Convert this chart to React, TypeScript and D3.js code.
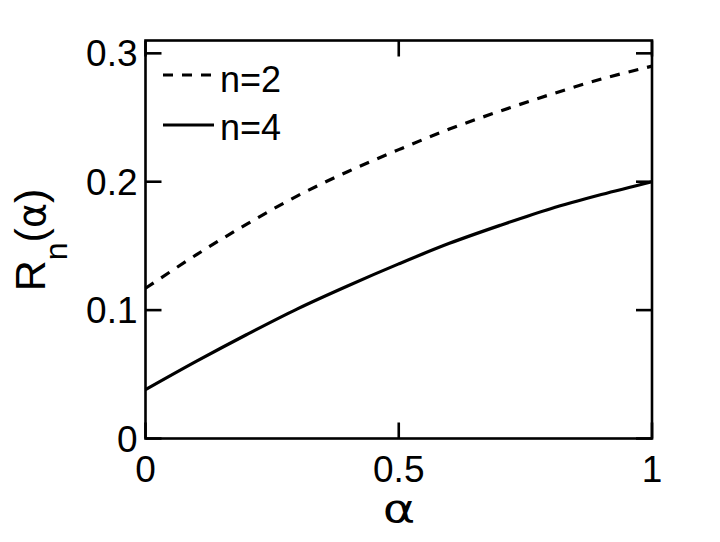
import React from "react";
import * as d3 from "d3";

const alphaValues = [0, 0.1, 0.2, 0.3, 0.4, 0.5, 0.6, 0.7, 0.8, 0.9, 1.0];
const seriesN2 = [0.117, 0.143, 0.167, 0.189, 0.208, 0.225, 0.241, 0.255, 0.268, 0.280, 0.290];
const seriesN4 = [0.038, 0.060, 0.081, 0.101, 0.119, 0.136, 0.152, 0.166, 0.179, 0.190, 0.200];
const xTicks = [0, 0.5, 1];
const xTickLabels = ["0", "0.5", "1"];
const yTicks = [0, 0.1, 0.2, 0.3];
const yTickLabels = ["0", "0.1", "0.2", "0.3"];
const legendLabels = ["n=2", "n=4"];

const W = 720, H = 542;
const L = 145.5, R = 652, T = 40.5, B = 438.5;
const FONT = "'Liberation Sans', Arial, Helvetica, sans-serif";
const GREEK = "'DejaVu Sans', 'Liberation Sans', sans-serif";

export default function App() {
  const x = d3.scaleLinear().domain([0, 1]).range([L, R]);
  const y = d3.scaleLinear().domain([0, 0.31]).range([B, T]);
  const line = d3
    .line<number>()
    .x((_, i) => x(alphaValues[i]))
    .y((d) => y(d))
    .curve(d3.curveCatmullRom);
  const tick = 16;
  return (
    <svg width={W} height={H} style={{ position: "absolute", left: 0, top: 0, background: "#fff" }}>
      <rect x={0} y={0} width={W} height={H} fill="#fff" />
      <path d={line(seriesN2) || ""} fill="none" stroke="#000" strokeWidth={3.2} strokeDasharray="10,9" />
      <path d={line(seriesN4) || ""} fill="none" stroke="#000" strokeWidth={3.2} />
      <rect x={L} y={T} width={R - L} height={B - T} fill="none" stroke="#000" strokeWidth={2.6} />
      {yTicks.map((v, i) => (
        <g key={"y" + i}>
          <line x1={L} x2={L + tick} y1={y(v)} y2={y(v)} stroke="#000" strokeWidth={2.6} />
          <line x1={R} x2={R - tick} y1={y(v)} y2={y(v)} stroke="#000" strokeWidth={2.6} />
          <text x={L - 8} y={y(v) + 13} textAnchor="end" fontFamily={FONT} fontSize={37}>
            {yTickLabels[i]}
          </text>
        </g>
      ))}
      {xTicks.map((v, i) => (
        <g key={"x" + i}>
          <line x1={x(v)} x2={x(v)} y1={B} y2={B - tick} stroke="#000" strokeWidth={2.6} />
          <line x1={x(v)} x2={x(v)} y1={T} y2={T + tick} stroke="#000" strokeWidth={2.6} />
          <text x={x(v)} y={481.5} textAnchor="middle" fontFamily={FONT} fontSize={37}>
            {xTickLabels[i]}
          </text>
        </g>
      ))}
      <text transform="translate(399,522) scale(1.3,1)" textAnchor="middle" fontFamily={GREEK} fontSize={38}>α</text>
      <text transform="translate(45,240) rotate(-90)" textAnchor="middle" fontFamily={FONT} fontSize={43}>
        R<tspan fontSize={32} dy={22}>n</tspan>
        <tspan dy={-22}>(</tspan>
        <tspan fontFamily={GREEK} fontSize={38}>α</tspan>
        <tspan>)</tspan>
      </text>
      <line x1={163} x2={216} y1={75} y2={75} stroke="#000" strokeWidth={3.2} strokeDasharray="10,9" />
      <text x={220} y={91.5} fontFamily={FONT} fontSize={36}>{legendLabels[0]}</text>
      <line x1={163} x2={214} y1={125} y2={125} stroke="#000" strokeWidth={3.2} />
      <text x={220} y={140} fontFamily={FONT} fontSize={36}>{legendLabels[1]}</text>
    </svg>
  );
}
